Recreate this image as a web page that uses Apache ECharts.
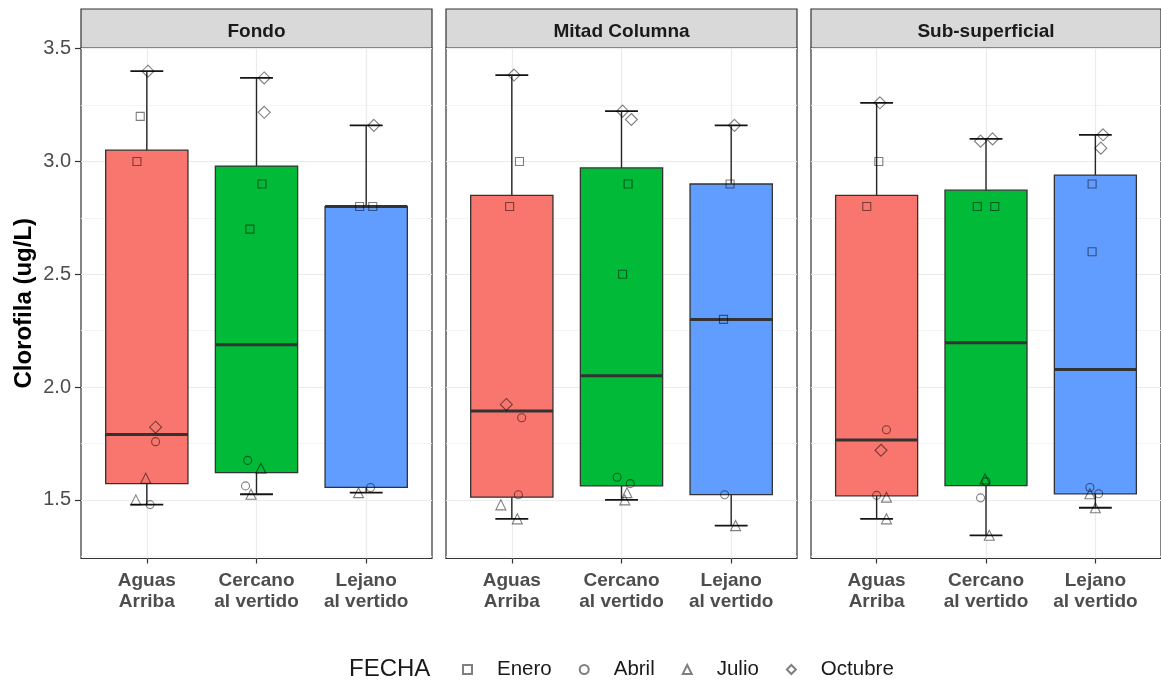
<!DOCTYPE html>
<html>
<head>
<meta charset="utf-8">
<script src="https://cdn.jsdelivr.net/npm/echarts@6/dist/echarts.min.js"></script>
<style>
  html, body { margin: 0; padding: 0; background: #ffffff; }
  #chart { width: 1161px; height: 682px; }
</style>
</head>
<body>
<div id="chart"></div>
<script>
// Facets, sampling sites and sampling months
const panels = ['Fondo', 'Mitad Columna', 'Sub-superficial'];
const sites = ['Aguas\nArriba', 'Cercano\nal vertido', 'Lejano\nal vertido'];
const months = ['Enero', 'Abril', 'Julio', 'Octubre'];
const monthSymbols = ['rect', 'circle', 'triangle', 'diamond'];
const yTicks = [1.5, 2.0, 2.5, 3.0, 3.5];
const yMinorTicks = [1.25, 1.75, 2.25, 2.75, 3.25];
const boxColors = ['#F8766D', '#00BA38', '#619CFF'];

// Clorofila (ug/L) per month, laid out as [panel][site] -> samples
const enero = [
  [[3.20, 3.00], [2.90, 2.70], [2.80, 2.80]],
  [[3.00, 2.80], [2.90, 2.50], [2.90, 2.30]],
  [[3.00, 2.80], [2.80, 2.80], [2.90, 2.60]]
];
const abril = [
  [[1.758, 1.479], [1.675, 1.562], [1.555]],
  [[1.864, 1.523], [1.600, 1.572], [1.523]],
  [[1.811, 1.520], [1.581, 1.509], [1.555, 1.527]]
];
const julio = [
  [[1.596, 1.500], [1.640, 1.525], [1.532]],
  [[1.478, 1.416], [1.532, 1.500], [1.386]],
  [[1.512, 1.416], [1.593, 1.343], [1.527, 1.465]]
];
const octubre = [
  [[3.400, 1.822], [3.370, 3.218], [3.160]],
  [[3.383, 1.923], [3.223, 3.186], [3.160]],
  [[3.260, 1.720], [3.090, 3.100], [3.118, 3.059]]
];

// Horizontal jitter of each sample (category units), same layout as above
const eneroJitter = [
  [[-0.06, -0.09], [0.05, -0.06], [-0.06, 0.06]],
  [[0.07, -0.02], [0.06, 0.01], [-0.01, -0.07]],
  [[0.02, -0.09], [-0.08, 0.08], [-0.03, -0.03]]
];
const abrilJitter = [
  [[0.08, 0.03], [-0.08, -0.10], [0.04]],
  [[0.09, 0.06], [-0.04, 0.08], [-0.06]],
  [[0.09, 0.00], [0.00, -0.05], [-0.05, 0.03]]
];
const julioJitter = [
  [[-0.01, -0.10], [0.04, -0.05], [-0.07]],
  [[-0.10, 0.05], [0.05, 0.03], [0.04]],
  [[0.09, 0.09], [-0.01, 0.03], [-0.05, 0.00]]
];
const octubreJitter = [
  [[0.01, 0.08], [0.07, 0.07], [0.07]],
  [[0.02, -0.05], [0.01, 0.09], [0.03]],
  [[0.03, 0.04], [-0.05, 0.06], [0.07, 0.05]]
];

const monthValues = [enero, abril, julio, octubre];
const monthJitter = [eneroJitter, abrilJitter, julioJitter, octubreJitter];

// Quantile (linear interpolation between order statistics)
function quantile(sorted, p) {
  const h = (sorted.length - 1) * p;
  const lo = Math.floor(h);
  const hi = Math.min(lo + 1, sorted.length - 1);
  return sorted[lo] + (h - lo) * (sorted[hi] - sorted[lo]);
}

function boxStats(panelIdx, siteIdx) {
  const all = [];
  monthValues.forEach(m => m[panelIdx][siteIdx].forEach(v => all.push(v)));
  all.sort((a, b) => a - b);
  const q1 = quantile(all, 0.25), q3 = quantile(all, 0.75);
  const iqr = q3 - q1;
  const inside = all.filter(v => v >= q1 - 1.5 * iqr && v <= q3 + 1.5 * iqr);
  return [inside[0], q1, quantile(all, 0.5), q3, inside[inside.length - 1]];
}

// Shared y range: data extent widened by 5% on each side
const everyValue = monthValues.flat(3);
const dMin = Math.min(...everyValue), dMax = Math.max(...everyValue);
const pad = (dMax - dMin) * 0.05;
const yMin = dMin - pad, yMax = dMax + pad;

const FONT = '"Liberation Sans", Arial, Helvetica, sans-serif';
const PANEL_LEFT = 81, PANEL_STEP = 365, PANEL_W = 351;
const PANEL_TOP = 48, PANEL_H = 510.5;
const STRIP_TOP = 9;

function renderBox(params, api) {
  const x = api.value(0);
  const lo = api.coord([x, api.value(1)]);
  const q1 = api.coord([x, api.value(2)]);
  const md = api.coord([x, api.value(3)]);
  const q3 = api.coord([x, api.value(4)]);
  const hi = api.coord([x, api.value(5)]);
  const boxW = api.size([0.75, 0])[0];
  const capW = api.size([0.3, 0])[0];
  const cx = lo[0];
  const fill = boxColors[api.value(6)];
  const whisker = { stroke: '#262626', lineWidth: 1.4 };
  const cap = { stroke: '#141414', lineWidth: 1.8 };
  return {
    type: 'group',
    children: [
      { type: 'line', shape: { x1: cx, y1: hi[1], x2: cx, y2: lo[1] }, style: whisker },
      { type: 'line', shape: { x1: cx - capW / 2, y1: hi[1], x2: cx + capW / 2, y2: hi[1] }, style: cap },
      { type: 'line', shape: { x1: cx - capW / 2, y1: lo[1], x2: cx + capW / 2, y2: lo[1] }, style: cap },
      { type: 'rect', shape: { x: cx - boxW / 2, y: q3[1], width: boxW, height: q1[1] - q3[1] },
        style: { fill: fill, stroke: '#333333', lineWidth: 1.3 } },
      { type: 'line', shape: { x1: cx - boxW / 2, y1: md[1], x2: cx + boxW / 2, y2: md[1] },
        style: { stroke: '#333333', lineWidth: 3 } }
    ]
  };
}

const grid = [], xAxis = [], yAxis = [], series = [];

panels.forEach((name, p) => {
  const left = PANEL_LEFT + p * PANEL_STEP;
  grid.push({ left: left, top: PANEL_TOP, width: PANEL_W, height: PANEL_H,
    show: true, backgroundColor: '#ffffff', borderColor: '#333333', borderWidth: 1.2 });
});
panels.forEach((name, p) => {
  const left = PANEL_LEFT + p * PANEL_STEP;
  grid.push({ left: left, top: STRIP_TOP, width: PANEL_W, height: PANEL_TOP - STRIP_TOP,
    show: true, backgroundColor: '#D9D9D9', borderColor: '#333333', borderWidth: 1.2 });
});

// panel x axes
panels.forEach((name, p) => {
  xAxis.push({
    type: 'value', gridIndex: p, min: 0.4, max: 3.6,
    axisLine: { show: false },
    axisTick: { show: true, customValues: [1, 2, 3], length: 5, lineStyle: { color: '#333333', width: 1.2 } },
    axisLabel: {
      show: true, customValues: [1, 2, 3], margin: 12,
      formatter: v => sites[Math.round(v) - 1],
      fontFamily: FONT, fontSize: 19, fontWeight: 'bold', color: '#4D4D4D', lineHeight: 21
    },
    splitLine: { show: true, lineStyle: { color: '#EBEBEB', width: 1.2 } }
  });
});
// strip x axes carrying the facet titles
panels.forEach((name, p) => {
  xAxis.push({
    type: 'value', gridIndex: 3 + p, min: 0, max: 1,
    axisLine: { show: false }, axisTick: { show: false }, axisLabel: { show: false },
    splitLine: { show: false },
    name: name, nameLocation: 'middle', nameGap: -16.5,
    nameTextStyle: { fontFamily: FONT, fontSize: 19, fontWeight: 'bold', color: '#1A1A1A', verticalAlign: 'middle' }
  });
});

// major y axes
panels.forEach((name, p) => {
  yAxis.push({
    type: 'value', gridIndex: p, min: yMin, max: yMax,
    axisLine: { show: false },
    axisTick: { show: p === 0, customValues: yTicks, length: 6, lineStyle: { color: '#333333', width: 1.2 } },
    axisLabel: {
      show: p === 0, customValues: yTicks, margin: 10,
      formatter: v => v.toFixed(1),
      fontFamily: FONT, fontSize: 20, color: '#4D4D4D'
    },
    splitLine: { show: true, lineStyle: { color: '#EBEBEB', width: 1.2 } },
    name: p === 0 ? 'Clorofila (ug/L)' : '',
    nameLocation: 'middle', nameGap: 45, nameRotate: 90,
    nameTextStyle: { fontFamily: FONT, fontSize: 24, fontWeight: 'bold', color: '#000000' }
  });
});
// minor y grid lines
panels.forEach((name, p) => {
  yAxis.push({
    type: 'value', gridIndex: p, min: yMin, max: yMax,
    axisLine: { show: false },
    axisTick: { show: false, customValues: yMinorTicks },
    axisLabel: { show: false, customValues: yMinorTicks },
    splitLine: { show: true, lineStyle: { color: '#F3F3F3', width: 0.9 } }
  });
});
// strip y axes
panels.forEach((name, p) => {
  yAxis.push({ type: 'value', gridIndex: 3 + p, min: 0, max: 1, show: false });
});

// boxes with whiskers
panels.forEach((name, p) => {
  const data = sites.map((s, i) => [i + 1].concat(boxStats(p, i), [i]));
  series.push({
    type: 'custom', xAxisIndex: p, yAxisIndex: p, z: 2, clip: false,
    renderItem: renderBox,
    encode: { x: 0, y: [1, 2, 3, 4, 5] },
    data: data, silent: true
  });
});

// samples, one shape per month
const symbolSizes = { rect: 8, circle: 8, triangle: 10, diamond: 12 };
months.forEach((m, k) => {
  panels.forEach((name, p) => {
    const data = [];
    sites.forEach((s, i) => {
      monthValues[k][p][i].forEach((v, j) => {
        data.push([i + 1 + monthJitter[k][p][i][j], v]);
      });
    });
    series.push({
      name: m, type: 'scatter', xAxisIndex: p, yAxisIndex: p, z: 3,
      symbol: monthSymbols[k], symbolSize: symbolSizes[monthSymbols[k]],
      itemStyle: { color: 'rgba(0,0,0,0)', borderColor: 'rgba(0,0,0,0.5)', borderWidth: 1.1, opacity: 1 },
      emphasis: { disabled: true },
      data: data, silent: true
    });
  });
});

const chart = echarts.init(document.getElementById('chart'), null, { renderer: 'canvas' });
chart.setOption({
  animation: false,
  backgroundColor: '#ffffff',
  title: {
    text: 'FECHA', left: 349, top: 657, padding: 0,
    textStyle: { fontFamily: FONT, fontSize: 24, fontWeight: 'normal', color: '#1A1A1A' }
  },
  legend: {
    data: months, left: 462, top: 659, padding: 0,
    itemWidth: 9, itemHeight: 9, itemGap: 27, selectedMode: false,
    textStyle: { fontFamily: FONT, fontSize: 20.5, color: '#1A1A1A', padding: [0, 0, 0, 20] }
  },
  grid: grid,
  xAxis: xAxis,
  yAxis: yAxis,
  series: series
});
</script>
</body>
</html>
